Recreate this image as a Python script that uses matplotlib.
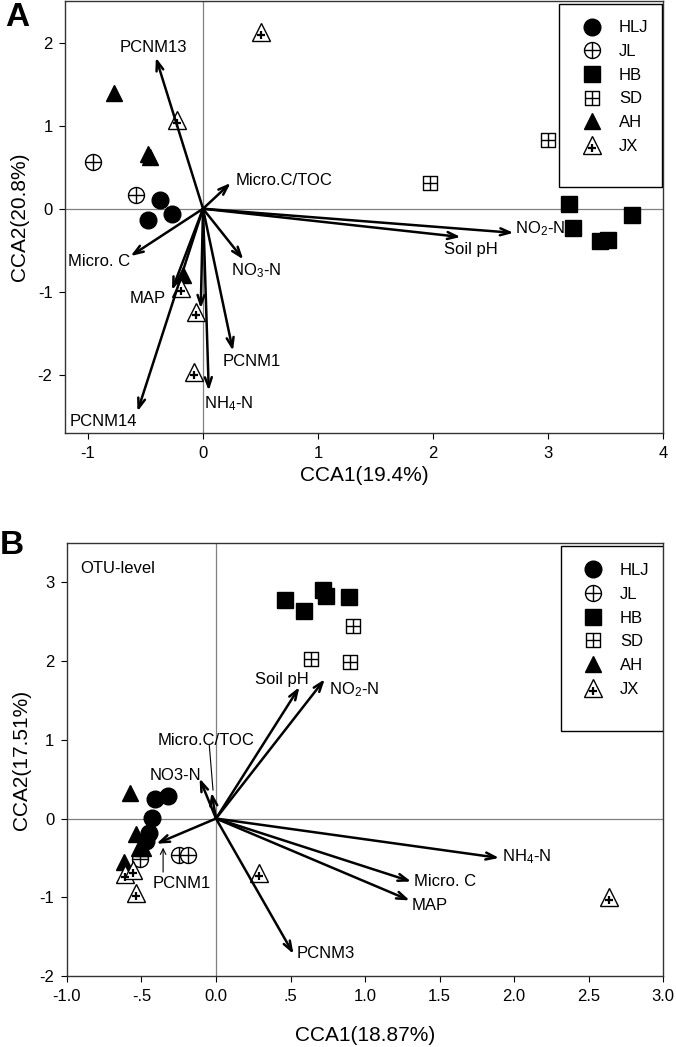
import matplotlib
matplotlib.use('Agg')
import matplotlib.pyplot as plt
from matplotlib.path import Path
from matplotlib.patches import Rectangle
from matplotlib.legend_handler import HandlerTuple

plt.rcParams['font.family'] = ['Liberation Sans', 'DejaVu Sans']
plt.rcParams['mathtext.fontset'] = 'custom'
plt.rcParams['mathtext.rm'] = 'Liberation Sans'
plt.rcParams['mathtext.it'] = 'Liberation Sans'
plt.rcParams['axes.unicode_minus'] = False

# ---- data: panel A ----
groups = ['HLJ', 'JL', 'HB', 'SD', 'AH', 'JX']
a_x = {'HLJ': [-0.37, -0.27, -0.48],
       'JL': [-0.96, -0.58],
       'HB': [3.18, 3.22, 3.45, 3.52, 3.73],
       'SD': [3.0, 1.97],
       'AH': [-0.77, -0.48, -0.46, -0.17],
       'JX': [0.5, -0.23, -0.19, -0.06, -0.08]}
a_y = {'HLJ': [0.11, -0.06, -0.14],
       'JL': [0.56, 0.17],
       'HB': [0.06, -0.23, -0.39, -0.38, -0.08],
       'SD': [0.83, 0.31],
       'AH': [1.39, 0.66, 0.62, -0.80],
       'JX': [2.13, 1.07, -0.95, -1.24, -1.96]}
a_arrow_x = [-0.41, 0.24, 2.70, 2.24, -0.63, 0.35, -0.27, -0.57, 0.26, 0.05, -0.02]
a_arrow_y = [1.82, 0.31, -0.29, -0.34, -0.57, -0.61, -0.98, -2.44, -1.71, -2.19, -1.20]
a_labels = ['PCNM13', 'Micro.C/TOC', 'NO$_2$-N', 'Soil pH', 'Micro. C', 'NO$_3$-N',
            'MAP', 'PCNM14', 'PCNM1', 'NH$_4$-N', '']
a_lab_x = [-0.43, 0.28, 2.71, 2.33, -0.63, 0.24, -0.32, -1.16, 0.17, 0.01, 0]
a_lab_y = [1.94, 0.34, -0.24, -0.49, -0.63, -0.75, -1.08, -2.56, -1.84, -2.35, 0]
a_lab_ha = ['center', 'left', 'left', 'center', 'right', 'left', 'right', 'left', 'left', 'left', 'left']

# ---- data: panel B ----
b_x = {'HLJ': [-0.41, -0.32, -0.43, -0.45, -0.47],
       'JL': [-0.25, -0.19, -0.51],
       'HB': [0.46, 0.59, 0.72, 0.74, 0.89],
       'SD': [0.64, 0.92, 0.90],
       'AH': [-0.58, -0.54, -0.52, -0.49, -0.62],
       'JX': [-0.61, -0.56, -0.54, 0.29, 2.64]}
b_y = {'HLJ': [0.25, 0.28, 0.01, -0.18, -0.28],
       'JL': [-0.46, -0.46, -0.51],
       'HB': [2.78, 2.63, 2.90, 2.83, 2.81],
       'SD': [2.03, 2.44, 1.99],
       'AH': [0.32, -0.19, -0.37, -0.37, -0.55],
       'JX': [-0.70, -0.65, -0.94, -0.69, -1.00]}
b_arrow_x = [0.56, 0.73, -0.03, -0.11, -0.40, 0.52, 1.90, 1.31, 1.30]
b_arrow_y = [1.67, 1.77, 0.33, 0.51, -0.32, -1.72, -0.50, -0.80, -1.04]
b_labels = ['Soil pH', 'NO$_2$-N', 'Micro.C/TOC', 'NO3-N', 'PCNM1', 'PCNM3',
            'NH$_4$-N', 'Micro. C', 'MAP']
b_lab_x = [0.44, 0.76, -0.07, -0.10, -0.23, 0.54, 1.92, 1.33, 1.31]
b_lab_y = [1.77, 1.64, 0.99, 0.55, -0.82, -1.72, -0.48, -0.80, -1.10]
b_lab_ha = ['center', 'left', 'center', 'right', 'center', 'left', 'left', 'left', 'left']

# ---- custom markers ----
hline = Path([(-1, 0), (1, 0)])
vline = Path([(0, -1), (0, 1)])
circle_plus = Path.make_compound_path(Path.unit_circle(), hline, vline)
square_plus = Path.make_compound_path(
    Path([(-1, -1), (1, -1), (1, 1), (-1, 1), (-1, -1)], closed=True), hline, vline)
# bold plus sitting in the lower part of a triangle (the two corner points fix the scale)
small_plus = Path([(-1, 1), (1, -1), (-0.42, -0.36), (0.42, -0.36), (0, -0.78), (0, 0.06)],
                  [Path.MOVETO, Path.MOVETO, Path.MOVETO, Path.LINETO, Path.MOVETO, Path.LINETO])

styles = {'HLJ': dict(marker='o', ms=12, mfc='k', mec='k'),
          'JL': dict(marker=circle_plus, ms=11.5, mfc='white', mec='k', mew=1.0),
          'HB': dict(marker='s', ms=11, mfc='k', mec='k'),
          'SD': dict(marker=square_plus, ms=10.5, mfc='white', mec='k', mew=1.0),
          'AH': dict(marker='^', ms=12, mfc='k', mec='k'),
          'JX': dict(marker='^', ms=13.5, mfc='white', mec='k', mew=1.0)}


def panel(ax, px, py, ax_x, ax_y, labs, lx, ly, lha):
    ax.axhline(0, color='#808080', lw=0.9, zorder=0)
    ax.axvline(0, color='#808080', lw=0.9, zorder=0)
    for i in range(len(ax_x)):
        ax.annotate('', xy=(ax_x[i], ax_y[i]), xytext=(0, 0),
                    arrowprops=dict(arrowstyle='->,head_length=0.7,head_width=0.25',
                                    lw=1.8, color='k', shrinkA=0, shrinkB=0), zorder=3)
        if labs[i]:
            ax.text(lx[i], ly[i], labs[i], ha=lha[i], va='center', fontsize=12, zorder=4)
    handles = []
    for g in groups:
        h, = ax.plot(px[g], py[g], ls='none', zorder=2, **styles[g])
        if g == 'JX':
            hp, = ax.plot(px[g], py[g], ls='none', zorder=2, marker=small_plus, ms=13.5,
                          mec='k', mew=1.6)
            h = (h, hp)
        handles.append(h)
    for s in ['top', 'right', 'bottom', 'left']:
        ax.spines[s].set_color('#333333')
        ax.spines[s].set_linewidth(1.0)
    ax.tick_params(direction='out', length=4, width=0.8, labelsize=12, pad=5,
                   top=False, right=False)
    return handles


fig = plt.figure(figsize=(6.76, 10.47), dpi=100)

# panel A
ax1 = fig.add_axes([0.0962, 0.5864, 0.8846, 0.4126])
h1 = panel(ax1, a_x, a_y, a_arrow_x, a_arrow_y, a_labels, a_lab_x, a_lab_y, a_lab_ha)
ax1.set_xlim(-1.2, 4)
ax1.set_ylim(-2.7, 2.5)
ax1.set_xticks([-1, 0, 1, 2, 3, 4])
ax1.set_yticks([-2, -1, 0, 1, 2])
ax1.set_xlabel('CCA1(19.4%)', fontsize=15, labelpad=4)
ax1.set_ylabel('CCA2(20.8%)', fontsize=15, labelpad=6)
ax1.add_patch(Rectangle((0.826, 0.570), 0.172, 0.423, transform=ax1.transAxes,
                        fc='white', ec='k', lw=1.0, zorder=4.5))
ax1.legend(h1, groups, loc='upper left', bbox_to_anchor=(0.868, 0.955), frameon=False,
           borderpad=0, borderaxespad=0, handlelength=1.0, handletextpad=1.1,
           labelspacing=0.52, fontsize=12, numpoints=1,
           handler_map={tuple: HandlerTuple(ndivide=1)})

# panel B
ax2 = fig.add_axes([0.0991, 0.0678, 0.8817, 0.4136])
h2 = panel(ax2, b_x, b_y, b_arrow_x, b_arrow_y, b_labels, b_lab_x, b_lab_y, b_lab_ha)
ax2.annotate('', xy=(-0.02, 0.36), xytext=(-0.045, 0.93),
             arrowprops=dict(arrowstyle='-', lw=0.8, color='k', shrinkA=0, shrinkB=0))
ax2.annotate('', xy=(-0.355, -0.37), xytext=(-0.355, -0.68),
             arrowprops=dict(arrowstyle='->', lw=0.8, color='k', shrinkA=0, shrinkB=0))
ax2.text(-0.91, 3.18, 'OTU-level', fontsize=12, ha='left', va='center')
ax2.set_xlim(-1, 3)
ax2.set_ylim(-2, 3.5)
ax2.set_xticks([-1, -0.5, 0, 0.5, 1, 1.5, 2, 2.5, 3])
ax2.set_xticklabels(['-1.0', '-.5', '0.0', '.5', '1.0', '1.5', '2.0', '2.5', '3.0'])
ax2.set_yticks([-2, -1, 0, 1, 2, 3])
ax2.set_xlabel('CCA1(18.87%)', fontsize=15, labelpad=16)
ax2.set_ylabel('CCA2(17.51%)', fontsize=15, labelpad=6)
ax2.add_patch(Rectangle((0.829, 0.566), 0.171, 0.427, transform=ax2.transAxes,
                        fc='white', ec='k', lw=1.0, zorder=4.5))
ax2.legend(h2, groups, loc='upper left', bbox_to_anchor=(0.869, 0.953), frameon=False,
           borderpad=0, borderaxespad=0, handlelength=1.0, handletextpad=1.1,
           labelspacing=0.52, fontsize=12, numpoints=1,
           handler_map={tuple: HandlerTuple(ndivide=1)})

fig.text(0.008, 0.983, 'A', fontsize=24, fontweight='bold', ha='left', va='center')
fig.text(0.0, 0.479, 'B', fontsize=24, fontweight='bold', ha='left', va='center')

fig.savefig('out.png', dpi=100)
